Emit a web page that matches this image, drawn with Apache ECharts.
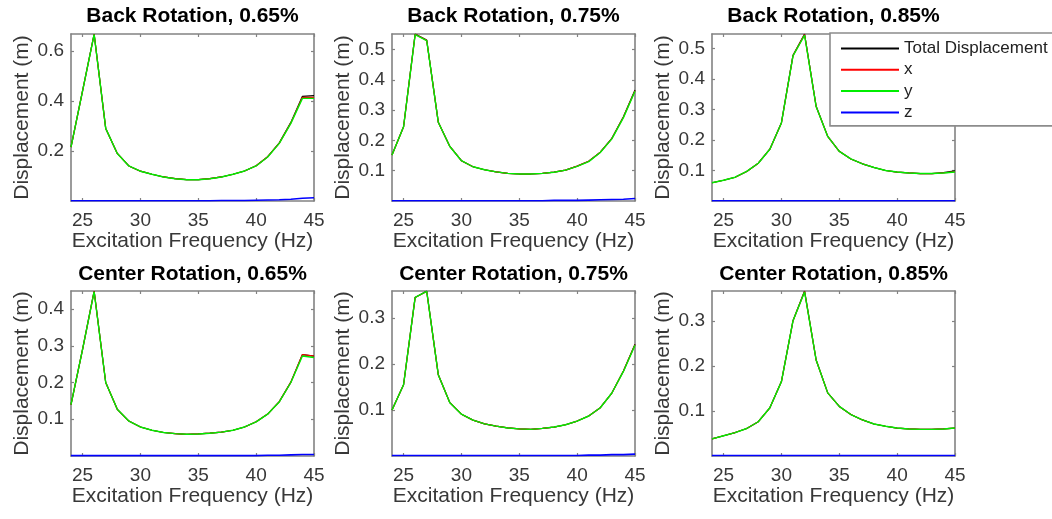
<!DOCTYPE html>
<html>
<head>
<meta charset="utf-8">
<script src="https://cdn.jsdelivr.net/npm/echarts@6/dist/echarts.min.js"></script>
<style>
  html, body { margin: 0; padding: 0; background: #ffffff; }
  #chart { width: 1052px; height: 519px; }
</style>
</head>
<body>
<div id="chart"></div>
<script>
// Excitation frequencies (Hz)
const freq = [24, 25, 26, 27, 28, 29, 30, 31, 32, 33, 34, 35, 36, 37, 38, 39, 40, 41, 42, 43, 44, 45];
const freqTicks = [25, 30, 35, 40, 45];

// Back rotation, 0.65 %
const backTotal065 = [0.215, 0.44, 0.667, 0.29, 0.19, 0.14, 0.119, 0.107, 0.096, 0.089, 0.085, 0.085, 0.089, 0.096, 0.107, 0.12, 0.141, 0.177, 0.232, 0.314, 0.418, 0.421];
const backX065     = [0.215, 0.44, 0.666, 0.29, 0.19, 0.14, 0.119, 0.107, 0.096, 0.089, 0.085, 0.085, 0.089, 0.096, 0.107, 0.12, 0.141, 0.177, 0.231, 0.312, 0.414, 0.414];
const backY065     = [0.215, 0.44, 0.665, 0.29, 0.19, 0.14, 0.119, 0.107, 0.096, 0.089, 0.085, 0.085, 0.089, 0.096, 0.107, 0.12, 0.14, 0.176, 0.23, 0.31, 0.41, 0.41];
const backZ065     = [0.001, 0.001, 0.001, 0.001, 0.001, 0.001, 0.001, 0.001, 0.001, 0.001, 0.001, 0.001, 0.001, 0.002, 0.002, 0.002, 0.003, 0.004, 0.005, 0.007, 0.011, 0.013];
const backTicks065 = [0.2, 0.4, 0.6];

// Back rotation, 0.75 %
const backTotal075 = [0.152, 0.245, 0.551, 0.531, 0.26, 0.18, 0.133, 0.113, 0.103, 0.096, 0.091, 0.089, 0.089, 0.091, 0.095, 0.102, 0.115, 0.131, 0.161, 0.207, 0.278, 0.366];
const backX075     = [0.152, 0.245, 0.55, 0.53, 0.26, 0.18, 0.133, 0.113, 0.103, 0.096, 0.091, 0.089, 0.089, 0.091, 0.095, 0.102, 0.115, 0.131, 0.161, 0.206, 0.277, 0.364];
const backY075     = [0.152, 0.245, 0.549, 0.529, 0.26, 0.18, 0.133, 0.113, 0.103, 0.096, 0.091, 0.089, 0.089, 0.091, 0.095, 0.102, 0.114, 0.13, 0.16, 0.205, 0.275, 0.362];
const backZ075     = [0.001, 0.001, 0.001, 0.001, 0.001, 0.001, 0.001, 0.001, 0.001, 0.001, 0.001, 0.001, 0.001, 0.001, 0.002, 0.002, 0.002, 0.003, 0.004, 0.005, 0.006, 0.008];
const backTicks075 = [0.1, 0.2, 0.3, 0.4, 0.5];

// Back rotation, 0.85 %
const backTotal085 = [0.06, 0.068, 0.078, 0.097, 0.124, 0.17, 0.257, 0.478, 0.548, 0.311, 0.212, 0.163, 0.138, 0.122, 0.11, 0.1, 0.095, 0.092, 0.09, 0.09, 0.093, 0.099];
const backX085     = [0.06, 0.068, 0.078, 0.097, 0.124, 0.17, 0.256, 0.477, 0.546, 0.31, 0.212, 0.163, 0.138, 0.122, 0.11, 0.1, 0.095, 0.092, 0.09, 0.09, 0.092, 0.096];
const backY085     = [0.06, 0.068, 0.078, 0.097, 0.124, 0.17, 0.256, 0.476, 0.544, 0.31, 0.212, 0.163, 0.138, 0.122, 0.11, 0.1, 0.095, 0.092, 0.09, 0.09, 0.092, 0.095];
const backZ085     = [0.001, 0.001, 0.001, 0.001, 0.001, 0.001, 0.001, 0.001, 0.001, 0.001, 0.001, 0.001, 0.001, 0.001, 0.001, 0.001, 0.001, 0.001, 0.001, 0.001, 0.001, 0.001];
const backTicks085 = [0.1, 0.2, 0.3, 0.4, 0.5];

// Center rotation, 0.65 %
const centerTotal065 = [0.14, 0.29, 0.449, 0.2, 0.127, 0.095, 0.079, 0.07, 0.064, 0.061, 0.059, 0.06, 0.062, 0.065, 0.07, 0.079, 0.093, 0.114, 0.148, 0.201, 0.276, 0.272];
const centerX065     = [0.14, 0.29, 0.448, 0.2, 0.127, 0.095, 0.079, 0.07, 0.064, 0.061, 0.059, 0.06, 0.062, 0.065, 0.07, 0.079, 0.093, 0.114, 0.148, 0.201, 0.276, 0.272];
const centerY065     = [0.14, 0.29, 0.447, 0.2, 0.127, 0.095, 0.079, 0.07, 0.064, 0.061, 0.059, 0.06, 0.062, 0.065, 0.07, 0.079, 0.093, 0.114, 0.147, 0.2, 0.272, 0.268];
const centerZ065     = [0.001, 0.001, 0.001, 0.001, 0.001, 0.001, 0.001, 0.001, 0.001, 0.001, 0.001, 0.001, 0.001, 0.001, 0.001, 0.001, 0.001, 0.002, 0.002, 0.003, 0.004, 0.004];
const centerTicks065 = [0.1, 0.2, 0.3, 0.4];

// Center rotation, 0.75 %
const centerTotal075 = [0.1, 0.155, 0.345, 0.359, 0.177, 0.116, 0.091, 0.078, 0.07, 0.065, 0.061, 0.059, 0.058, 0.06, 0.063, 0.068, 0.076, 0.087, 0.105, 0.137, 0.185, 0.243];
const centerX075     = [0.1, 0.155, 0.345, 0.358, 0.177, 0.116, 0.091, 0.078, 0.07, 0.065, 0.061, 0.059, 0.058, 0.06, 0.063, 0.068, 0.076, 0.087, 0.105, 0.137, 0.185, 0.242];
const centerY075     = [0.1, 0.155, 0.345, 0.358, 0.177, 0.116, 0.091, 0.078, 0.07, 0.065, 0.061, 0.059, 0.058, 0.06, 0.063, 0.068, 0.076, 0.087, 0.105, 0.137, 0.184, 0.241];
const centerZ075     = [0.001, 0.001, 0.001, 0.001, 0.001, 0.001, 0.001, 0.001, 0.001, 0.001, 0.001, 0.001, 0.001, 0.001, 0.001, 0.001, 0.001, 0.002, 0.002, 0.003, 0.003, 0.004];
const centerTicks075 = [0.1, 0.2, 0.3];

// Center rotation, 0.85 %
const centerTotal085 = [0.038, 0.045, 0.052, 0.061, 0.076, 0.107, 0.165, 0.3, 0.366, 0.213, 0.14, 0.11, 0.092, 0.08, 0.071, 0.066, 0.062, 0.06, 0.059, 0.059, 0.06, 0.062];
const centerX085     = [0.038, 0.045, 0.052, 0.061, 0.076, 0.107, 0.165, 0.3, 0.365, 0.213, 0.14, 0.11, 0.092, 0.08, 0.071, 0.066, 0.062, 0.06, 0.059, 0.059, 0.06, 0.062];
const centerY085     = [0.038, 0.045, 0.052, 0.061, 0.076, 0.107, 0.165, 0.3, 0.364, 0.213, 0.14, 0.11, 0.092, 0.08, 0.071, 0.066, 0.062, 0.06, 0.059, 0.059, 0.06, 0.062];
const centerZ085     = [0.001, 0.001, 0.001, 0.001, 0.001, 0.001, 0.001, 0.001, 0.001, 0.001, 0.001, 0.001, 0.001, 0.001, 0.001, 0.001, 0.001, 0.001, 0.001, 0.001, 0.001, 0.001];
const centerTicks085 = [0.1, 0.2, 0.3];

const panelTitles = [
  'Back Rotation, 0.65%', 'Back Rotation, 0.75%', 'Back Rotation, 0.85%',
  'Center Rotation, 0.65%', 'Center Rotation, 0.75%', 'Center Rotation, 0.85%'
];
const seriesNames = ['Total Displacement', 'x', 'y', 'z'];
const xAxisName = 'Excitation Frequency (Hz)';
const yAxisName = 'Displacement (m)';

const panelData = [
  [backTotal065, backX065, backY065, backZ065, backTicks065],
  [backTotal075, backX075, backY075, backZ075, backTicks075],
  [backTotal085, backX085, backY085, backZ085, backTicks085],
  [centerTotal065, centerX065, centerY065, centerZ065, centerTicks065],
  [centerTotal075, centerX075, centerY075, centerZ075, centerTicks075],
  [centerTotal085, centerX085, centerY085, centerZ085, centerTicks085]
];

// Layout of the 2 x 3 subplot grid (pixels)
const colLeft = [71, 392, 712];
const colWidth = 243;
const rowTop = [34, 291];
const rowHeight = [167, 165];
const titleTop = [6, 264];
const lineColors = ['#000000', '#ff0000', '#00ee00', '#0000ff'];
const lineWidths = [1.2, 1.2, 1.4, 1.6];

const FONT = '"Liberation Sans", Arial, Helvetica, sans-serif';
const boxColor = '#828282';
const textColor = '#383838';

const grids = [], xAxes = [], yAxes = [], series = [], titles = [];

panelData.forEach((pd, p) => {
  const col = p % 3, row = Math.floor(p / 3);
  const left = colLeft[col], top = rowTop[row], h = rowHeight[row];
  grids.push({ left: left, top: top, width: colWidth, height: h, containLabel: false });

  // tight y-limits: top of the axis sits on the highest point of the total curve
  const yMax = Math.max(...pd[0]);
  const xBase = {
    gridIndex: p, type: 'value', min: 24, max: 45,
    splitLine: { show: false },
    axisLine: { show: true, onZero: false, lineStyle: { color: boxColor, width: 1.6 } },
    axisTick: { show: true, inside: true, length: 3, customValues: freqTicks, lineStyle: { color: boxColor, width: 1.2 } }
  };
  xAxes.push(Object.assign({}, xBase, {
    position: 'bottom',
    name: xAxisName, nameLocation: 'middle', nameGap: 30,
    nameTextStyle: { fontFamily: FONT, fontSize: 21, color: textColor },
    axisLabel: { show: true, customValues: freqTicks, margin: 10, fontFamily: FONT, fontSize: 19, color: textColor }
  }));
  xAxes.push(Object.assign({}, xBase, { position: 'top', axisLabel: { show: false } }));

  const yBase = {
    gridIndex: p, type: 'value', min: 0, max: yMax,
    splitLine: { show: false },
    axisLine: { show: true, onZero: false, lineStyle: { color: boxColor, width: 1.6 } },
    axisTick: { show: true, inside: true, length: 3, customValues: pd[4], lineStyle: { color: boxColor, width: 1.2 } }
  };
  yAxes.push(Object.assign({}, yBase, {
    position: 'left',
    name: yAxisName, nameLocation: 'middle', nameRotate: 90, nameGap: 38,
    nameTextStyle: { fontFamily: FONT, fontSize: 21, color: textColor },
    axisLabel: { show: true, customValues: pd[4], margin: 7, fontFamily: FONT, fontSize: 19, color: textColor,
                 formatter: v => String(+v.toFixed(2)) }
  }));
  yAxes.push(Object.assign({}, yBase, { position: 'right', axisLabel: { show: false } }));

  for (let s = 0; s < 4; s++) {
    series.push({
      name: seriesNames[s], type: 'line',
      xAxisIndex: 2 * p, yAxisIndex: 2 * p,
      data: freq.map((f, i) => [f, pd[s][i]]),
      showSymbol: false, symbol: 'none',
      color: lineColors[s],
      lineStyle: { color: lineColors[s], width: lineWidths[s] },
      itemStyle: { color: lineColors[s] },
      emphasis: { disabled: true },
      animation: false
    });
  }

  titles.push({
    text: panelTitles[p],
    left: left + colWidth / 2, top: titleTop[row],
    textAlign: 'center', padding: 0,
    textStyle: { fontFamily: FONT, fontSize: 21, fontWeight: 'bold', color: '#000000' }
  });
});

const chart = echarts.init(document.getElementById('chart'), null, { renderer: 'canvas' });
chart.setOption({
  backgroundColor: '#ffffff',
  animation: false,
  title: titles,
  grid: grids,
  xAxis: xAxes,
  yAxis: yAxes,
  legend: {
    data: seriesNames,
    orient: 'vertical',
    left: 830, top: 33,
    padding: [7, 30, 5, 11],
    itemWidth: 58, itemHeight: 2, itemGap: 4.3,
    icon: 'rect',
    selectedMode: false,
    backgroundColor: '#ffffff',
    borderColor: '#8c8c8c', borderWidth: 1.6,
    z: 10,
    textStyle: { fontFamily: FONT, fontSize: 17, color: '#222222', padding: [0, 0, 0, 0] }
  },
  series: series
});
</script>
</body>
</html>
